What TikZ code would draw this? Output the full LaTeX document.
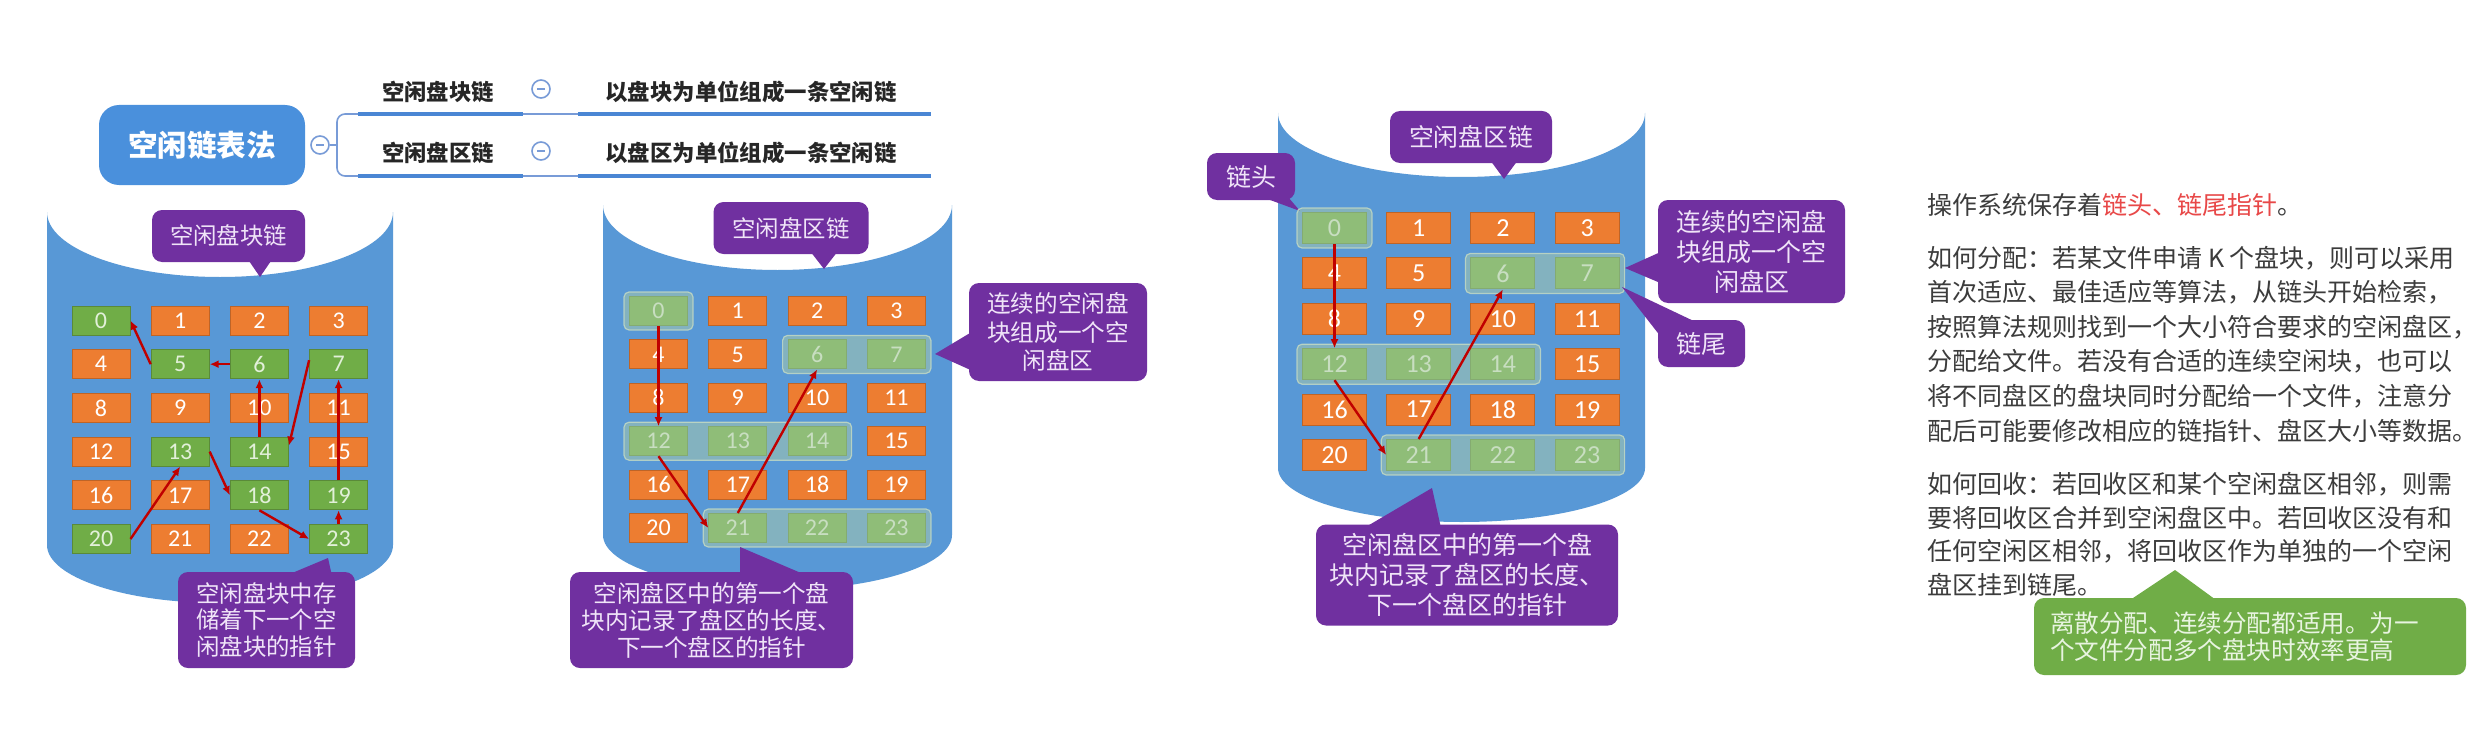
\documentclass[tikz,border=0pt]{standalone}
\usepackage{fontspec}
\newfontfamily\cjk{Noto Sans CJK SC}
\newfontfamily\numfont{Carlito}
\usetikzlibrary{arrows.meta,fit,calc}
\definecolor{cyl}{RGB}{88,152,214}
\definecolor{cor}{RGB}{237,125,49}
\definecolor{cgr}{RGB}{112,173,71}
\definecolor{cgrtxt}{RGB}{226,240,217}
\definecolor{cpur}{RGB}{112,48,160}
\definecolor{ctxt}{RGB}{240,228,248}
\definecolor{ared}{RGB}{192,0,0}
\definecolor{tblue}{RGB}{74,144,220}
\definecolor{lblue}{RGB}{74,134,212}
\definecolor{thinb}{RGB}{120,155,215}
\definecolor{txt}{RGB}{60,60,60}
\definecolor{mtxt}{RGB}{38,38,38}
\definecolor{rtxt}{RGB}{232,72,72}
\definecolor{hlc}{RGB}{175,205,170}
\definecolor{gtxt}{RGB}{232,244,224}
\newcommand\mkcells[7]{%
  \foreach \i in {0,...,23}{%
    \gdef\isgr{0}%
    \foreach \g in {#6}{\ifnum\g=\i\relax\gdef\isgr{1}\fi}%
    \ifnum\isgr=1\relax\tikzset{curcell/.style={grc}}\else\tikzset{curcell/.style={orc}}\fi
    \pgfmathsetmacro\cx{#2+#3*mod(\i,4)}%
    \pgfmathsetmacro\cy{#4+#5*int(\i/4)}%
    \node[curcell,#7] (#1\i) at (\cx,\cy) {\i};
  }}
\begin{document}
\begin{tikzpicture}[x=0.5pt,y=-0.5pt,
  cellbase/.style={minimum width=29pt,minimum height=14.5pt,inner sep=0pt,font=\numfont\fontsize{12}{12}\selectfont,line width=0.5pt},
  orc/.style={cellbase,fill=cor,draw=cor!80!black,text=white},
  grc/.style={cellbase,fill=cgr,draw=cgr!80!black,text=cgrtxt},
  bigcell/.style={minimum width=32pt,minimum height=15.5pt,font=\numfont\fontsize{13}{13}\selectfont},
  hl/.style={fill=hlc,fill opacity=0.5,draw=hlc!70!white,draw opacity=0.8,line width=0.6pt,rounded corners=2.5pt,inner xsep=2.5pt,inner ysep=2pt},
  ptr/.style={draw=ared,line width=1.2pt,-{Latex[length=4.5pt,width=4pt]}},
  callout/.style={fill=cpur,rounded corners=5pt,text=ctxt,align=center,inner sep=0pt},
  ptrshape/.style={fill=cpur},
  titlebox/.style={fill=tblue,rounded corners=10pt,minimum width=103pt,minimum height=40pt,text=white,font=\cjk\bfseries\fontsize{14.8}{16}\selectfont},
  mmcirc/.style={circle,draw=thinb,fill=white,line width=0.8pt,minimum size=9pt,inner sep=0pt},
  mmminus/.style={draw=thinb,line width=0.6pt},
  thinline/.style={draw=thinb,line width=0.8pt},
  thickline/.style={draw=lblue,line width=2.4pt},
  mmtext/.style={text=mtxt,font=\cjk\bfseries\fontsize{11.2}{12}\selectfont,inner sep=0pt},
  para/.style={text=txt,font=\cjk\fontsize{12.5}{14}\selectfont,inner sep=0pt,anchor=west},
]
\useasboundingbox (0,0) rectangle (2492,738);
\fill[white] (0,0) rectangle (2492,738);

% ---------------- mind map ----------------
\node[titlebox] (title) at (202,145) {空闲链表法};
\node[mmcirc] (m0) at (320,145) {};
\draw[mmminus] ($(m0.center)+(-2pt,0pt)$) -- ($(m0.center)+(2pt,0pt)$);
\coordinate (bj) at (337,145);
\coordinate (br1) at (358,114);
\coordinate (br2) at (358,176);
\draw[thinline] (m0.east) -- (bj);
\draw[thinline,rounded corners=4pt] (br1) -| (bj) |- (br2);
\draw[thickline] (br1) -- (523,114);
\draw[thinline] (523,114) -- (578,114);
\draw[thickline] (578,114) -- (931,114);
\draw[thickline] (br2) -- (523,176);
\draw[thinline] (523,176) -- (578,176);
\draw[thickline] (578,176) -- (931,176);
\node[mmtext] (k1) at (438,92) {空闲盘块链};
\node[mmtext] (k2) at (438,153) {空闲盘区链};
\node[mmcirc] (m1) at (541,89) {};
\draw[mmminus] ($(m1.center)+(-2pt,0pt)$) -- ($(m1.center)+(2pt,0pt)$);
\node[mmcirc] (m2) at (541,151) {};
\draw[mmminus] ($(m2.center)+(-2pt,0pt)$) -- ($(m2.center)+(2pt,0pt)$);
\node[mmtext,anchor=west] (d1) at (605,92) {以盘块为单位组成一条空闲链};
\node[mmtext,anchor=west] (d2) at (605,153) {以盘区为单位组成一条空闲链};

% ---------------- cylinder 1 ----------------
\fill[cyl] (47,212) arc[start angle=180,end angle=0,x radius=173,y radius=65]
  -- (393,545) arc[start angle=0,end angle=180,x radius=173,y radius=58] -- cycle;
\fill[ptrshape] (247,258) -- (260,277) -- (273,258) -- cycle;
\node[callout,minimum width=76.5pt,minimum height=26pt,font=\cjk\fontsize{11.7}{13}\selectfont] (ca1) at (228.5,236) {空闲盘块链};
\mkcells{a}{101}{79.2}{320.5}{43.7}{0,5,6,7,13,14,18,19,20,23}{}
\draw[ptr] (a5.west) -- (a0.east);
\draw[ptr] (a6.west) -- (a5.east);
\draw[ptr] (a14.north) -- (a6.south);
\draw[ptr] ([yshift=2pt]a7.west) -- ([yshift=3pt]a14.east);
\draw[ptr] (a19.north) -- (a7.south);
\draw[ptr] (a23.north) -- (a19.south);
\draw[ptr] (a18.south) -- (a23.west);
\draw[ptr] (a13.east) -- (a18.west);
\draw[ptr] (a20.east) -- (a13.south);
\fill[ptrshape] (285,576) -- (328,558) -- (332,576) -- cycle;
\node[callout,minimum width=88.5pt,minimum height=48pt,font=\cjk\fontsize{11.7}{13.4}\selectfont] (cx1) at (266.5,620) {空闲盘块中存\\储着下一个空\\闲盘块的指针};

% ---------------- cylinder 2 ----------------
\fill[cyl] (603,205) arc[start angle=180,end angle=0,x radius=174.5,y radius=65]
  -- (952,535) arc[start angle=0,end angle=180,x radius=174.5,y radius=55] -- cycle;
\fill[ptrshape] (810,251) -- (824,269) -- (838,251) -- cycle;
\node[callout,minimum width=77.5pt,minimum height=26pt,font=\cjk\fontsize{11.7}{13}\selectfont] (cb1) at (791,228) {空闲盘区链};
\mkcells{b}{658.5}{79.3}{311}{43.4}{0,6,7,12,13,14,21,22,23}{}
\node[hl,fit=(b0)] (hb0) {};
\node[hl,fit=(b6)(b7)] (hb6) {};
\node[hl,fit=(b12)(b14)] (hb12) {};
\node[hl,fit=(b21)(b23)] (hb21) {};
\draw[ptr] (b0.south) -- (b12.north);
\draw[ptr] (b12.south) -- (b21.west);
\draw[ptr] (b21.north) -- (b6.south);
\fill[ptrshape] (975,330) -- (935,354) -- (975,372) -- cycle;
\node[callout,minimum width=89pt,minimum height=49pt,font=\cjk\fontsize{11.8}{14.2}\selectfont] (ce) at (1058,332) {连续的空闲盘\\块组成一个空\\闲盘区};
\fill[ptrshape] (740,576) -- (740,547) -- (808,576) -- cycle;
\node[callout,minimum width=141.5pt,minimum height=48pt,font=\cjk\fontsize{11.8}{13.5}\selectfont] (cx2) at (711.5,620) {空闲盘区中的第一个盘\\块内记录了盘区的长度、\\下一个盘区的指针};

% ---------------- cylinder 3 ----------------
\fill[cyl] (1278,113) arc[start angle=180,end angle=0,x radius=183.5,y radius=64]
  -- (1645,468) arc[start angle=0,end angle=180,x radius=183.5,y radius=54] -- cycle;
\fill[ptrshape] (1490,160) -- (1504,179) -- (1518,160) -- cycle;
\node[callout,minimum width=81pt,minimum height=26pt,font=\cjk\fontsize{12.4}{13}\selectfont] (cc1) at (1471,137) {空闲盘区链};
\fill[ptrshape] (1262,197) -- (1300,211) -- (1288,197) -- cycle;
\node[callout,minimum width=44pt,minimum height=23.5pt,font=\cjk\fontsize{12.5}{13}\selectfont] (ch) at (1251,176.5) {链头};
\mkcells{c}{1334.5}{84.2}{228}{45.4}{0,6,7,12,13,14,21,22,23}{bigcell}
\node[hl,fit=(c0)] (hc0) {};
\node[hl,fit=(c6)(c7)] (hc6) {};
\node[hl,fit=(c12)(c14)] (hc12) {};
\node[hl,fit=(c21)(c23)] (hc21) {};
\draw[ptr] (c0.south) -- (c12.north);
\draw[ptr] (c12.south) -- (c21.west);
\draw[ptr] (c21.north) -- (c6.south);
\fill[ptrshape] (1665,250) -- (1625,268) -- (1665,285) -- cycle;
\node[callout,minimum width=93.5pt,minimum height=51.5pt,font=\cjk\fontsize{12.5}{15}\selectfont] (cf) at (1751.5,251.5) {连续的空闲盘\\块组成一个空\\闲盘区};
\fill[ptrshape] (1622,287) -- (1700,324) -- (1661,337) -- cycle;
\node[callout,minimum width=43.5pt,minimum height=23.5pt,font=\cjk\fontsize{12.5}{13}\selectfont] (cg) at (1701.5,343.5) {链尾};
\fill[ptrshape] (1364,528) -- (1432,488) -- (1441,528) -- cycle;
\node[callout,minimum width=151pt,minimum height=50.5pt,font=\cjk\fontsize{12.5}{15}\selectfont] (cx3) at (1467,575) {空闲盘区中的第一个盘\\块内记录了盘区的长度、\\下一个盘区的指针};

% ---------------- right text ----------------
\node[para] (p0) at (1927,205) {操作系统保存着\textcolor{rtxt}{链头、链尾指针}。};
\foreach \y/\t [count=\k] in {
  258/{如何分配：若某文件申请 K 个盘块，则可以采用},
  292.5/{首次适应、最佳适应等算法，从链头开始检索，},
  327/{按照算法规则找到一个大小符合要求的空闲盘区，},
  361.5/{分配给文件。若没有合适的连续空闲块，也可以},
  396/{将不同盘区的盘块同时分配给一个文件，注意分},
  430.5/{配后可能要修改相应的链指针、盘区大小等数据。},
  484/{如何回收：若回收区和某个空闲盘区相邻，则需},
  517.5/{要将回收区合并到空闲盘区中。若回收区没有和},
  551/{任何空闲区相邻，将回收区作为单独的一个空闲},
  584.5/{盘区挂到链尾。}}
  {\node[para] (p\k) at (1927,\y) {\t};}
\fill[cgr] (2130,600) -- (2175,570) -- (2216,600) -- cycle;
\node[fill=cgr,rounded corners=5pt,minimum width=216pt,minimum height=38.5pt,inner xsep=8pt,inner ysep=0pt,text width=200pt,align=left,text=gtxt,font=\cjk\fontsize{12.3}{13.5}\selectfont] (gn) at (2250,636.5) {离散分配、连续分配都适用。为一\\个文件分配多个盘块时效率更高};
\end{tikzpicture}
\end{document}
